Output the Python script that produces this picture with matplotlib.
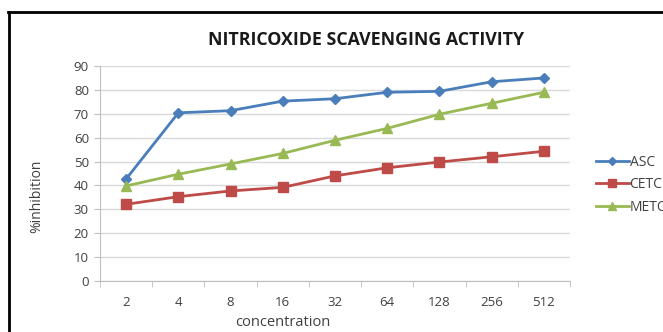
import matplotlib
matplotlib.use("Agg")
import matplotlib.pyplot as plt
from matplotlib.lines import Line2D

# ── data ─────────────────────────────────────────────────────────────────
concentration = ["2", "4", "8", "16", "32", "64", "128", "256", "512"]
asc = [42.7, 70.4, 71.3, 75.3, 76.3, 79.0, 79.4, 83.4, 85.0]
cetc = [32.1, 35.3, 37.7, 39.2, 44.0, 47.4, 49.8, 52.0, 54.3]
metc = [39.8, 44.7, 49.0, 53.4, 58.9, 63.9, 69.8, 74.4, 79.0]

W, H = 663, 332
plt.rcParams["font.family"] = ["Open Sans", "DejaVu Sans"]

fig = plt.figure(figsize=(W / 100, H / 100), dpi=100)
fig.set_facecolor("white")
ax = fig.add_axes([100 / W, 1 - 281 / H, 470 / W, 215 / H])

x = list(range(len(concentration)))
ax.plot(x, asc, color="#4A7EBB", marker="D", markersize=5, linewidth=2, label="ASC")
ax.plot(x, cetc, color="#BE4B48", marker="s", markersize=7, linewidth=2, label="CETC")
ax.plot(x, metc, color="#98B954", marker="^", markersize=7, linewidth=2, label="METC")

ax.set_xlim(-0.5, len(concentration) - 0.5)
ax.set_ylim(0, 90)
ax.set_yticks(range(0, 91, 10))
ax.set_xticks(x)
ax.set_xticklabels(concentration)
ax.set_xticks([i + 0.5 for i in range(-1, len(concentration))], minor=True)
ax.tick_params(axis="x", which="major", length=0, pad=11, labelsize=9.5, colors="#404040")
ax.tick_params(axis="x", which="minor", length=4, color="#BFBFBF", direction="out")
ax.tick_params(axis="y", length=4, color="#BFBFBF", labelsize=9.5, labelcolor="#404040", pad=4)

ax.grid(True, axis="y", color="#D9D9D9", linewidth=1)
ax.set_axisbelow(True)
for side in ["top", "right"]:
    ax.spines[side].set_visible(False)
ax.spines["left"].set_color("#BFBFBF")
ax.spines["bottom"].set_color("#BFBFBF")

fig.text(366 / W, 1 - 40 / H, "NITRICOXIDE SCAVENGING ACTIVITY", ha="center", va="center",
         fontsize=12.8, fontweight="bold", color="#1a1a1a")
fig.text(37 / W, 1 - 196 / H, "%inhibition", ha="center", va="center", rotation=90,
         fontsize=10, color="#404040")
fig.text(283 / W, 1 - 323 / H, "concentration", ha="center", va="center",
         fontsize=10.5, color="#404040")

fig.legend(loc="upper left", bbox_to_anchor=(590 / W, 1 - 149 / H), frameon=False,
           fontsize=10, handlelength=2.4, handletextpad=0.05, labelspacing=0.55,
           borderaxespad=0, markerscale=0.75, labelcolor="#404040")

# black frame on top and left edges
fig.add_artist(Line2D([8.5 / W, 8.5 / W], [0, 1 - 11.5 / H], transform=fig.transFigure,
                      color="black", linewidth=2))
fig.add_artist(Line2D([8 / W, 1], [1 - 11.5 / H, 1 - 11.5 / H], transform=fig.transFigure,
                      color="black", linewidth=2))

fig.savefig("out.png", dpi=100, facecolor=fig.get_facecolor())
plt.close()
